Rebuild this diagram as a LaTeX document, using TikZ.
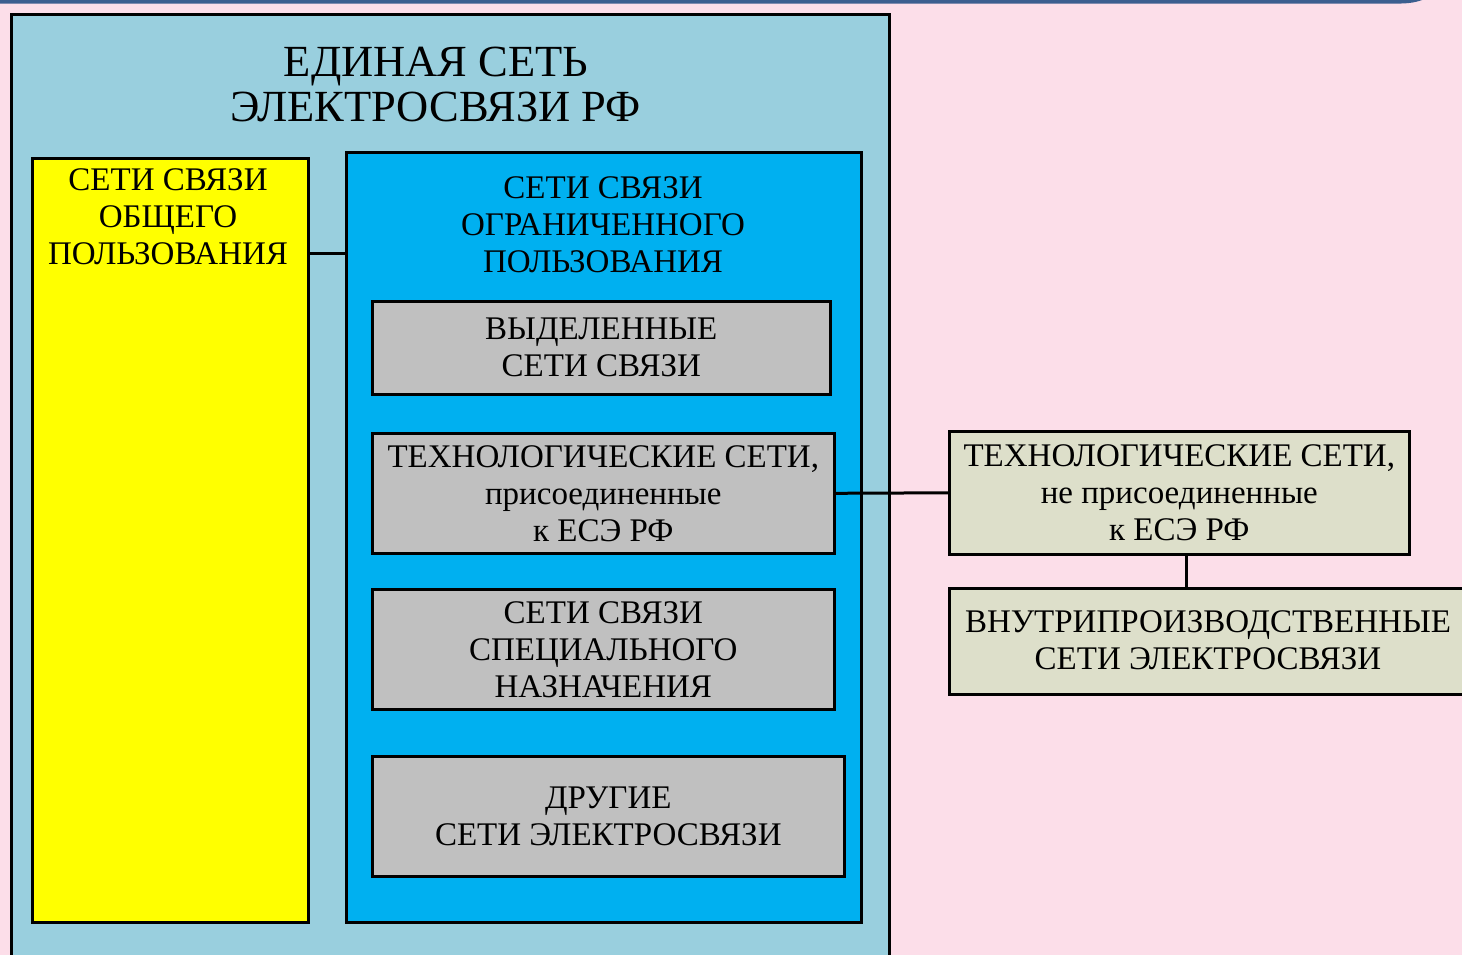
\documentclass[tikz,border=0pt]{standalone}
\usepackage{fontspec}
\setmainfont{Liberation Serif}
\begin{document}
\begin{tikzpicture}[x=1pt,y=-1pt,
  box/.style={draw=black,line width=2.6pt,inner sep=0pt,anchor=north west},
  lbl/.style={align=center,font=\fontsize{33}{37}\selectfont,inner sep=0pt},
  link/.style={line width=3pt}]
\definecolor{bgpink}{HTML}{FCDEE9}
\definecolor{topbar}{HTML}{3B5E8F}
\definecolor{sky}{HTML}{99CFDE}
\definecolor{deepsky}{HTML}{00B0F0}
\definecolor{graybox}{HTML}{C0C0C0}
\definecolor{sage}{HTML}{DDDFCA}
\definecolor{brightyellow}{HTML}{FFFF00}
% page and top strip
\fill[bgpink] (0,0) rectangle (1462,955);
\useasboundingbox (0,0) rectangle (1462,955);
\fill[topbar] (0,0) -- (1422,0) .. controls (1414,3) and (1406,3.6) .. (1395,3.6) -- (0,3.6) -- cycle;
% outer frame
\node[box,fill=sky,minimum width=878pt,minimum height=960pt] (esr) at (10,13) {};
\node[lbl,font=\fontsize{44.5}{45}\selectfont] (esrt) at (436,84) {ЕДИНАЯ СЕТЬ\\ЭЛЕКТРОСВЯЗИ РФ};
% public networks
\node[box,fill=brightyellow,minimum width=276pt,minimum height=764pt] (pub) at (31,157) {};
\node[lbl] (pubt) at (168,217) {СЕТИ СВЯЗИ\\ОБЩЕГО\\ПОЛЬЗОВАНИЯ};
% restricted networks
\node[box,fill=deepsky,minimum width=515pt,minimum height=770pt] (lim) at (345,151) {};
\node[lbl] (limt) at (603,225) {СЕТИ СВЯЗИ\\ОГРАНИЧЕННОГО\\ПОЛЬЗОВАНИЯ};
\node[box,fill=graybox,minimum width=458pt,minimum height=93pt] (ded) at (371,300) {};
\node[lbl] at (ded.center) {ВЫДЕЛЕННЫЕ\\СЕТИ СВЯЗИ};
\node[box,fill=graybox,minimum width=462pt,minimum height=120pt] (tech) at (371,432) {};
\node[lbl] at (tech.center) {ТЕХНОЛОГИЧЕСКИЕ СЕТИ,\\присоединенные\\к ЕСЭ РФ};
\node[box,fill=graybox,minimum width=462pt,minimum height=120pt] (spec) at (371,588) {};
\node[lbl] at (spec.center) {СЕТИ СВЯЗИ\\СПЕЦИАЛЬНОГО\\НАЗНАЧЕНИЯ};
\node[box,fill=graybox,minimum width=472pt,minimum height=120pt] (oth) at (371,755) {};
\node[lbl] at (oth.center) {ДРУГИЕ\\СЕТИ ЭЛЕКТРОСВЯЗИ};
% networks outside
\node[box,fill=sage,minimum width=460pt,minimum height=123pt] (techr) at (948,430) {};
\node[lbl] at (techr.center) {ТЕХНОЛОГИЧЕСКИЕ СЕТИ,\\не присоединенные\\к ЕСЭ РФ};
\node[box,fill=sage,minimum width=522pt,minimum height=106pt] (intr) at (948,587) {};
\node[lbl] at (1208,640) {ВНУТРИПРОИЗВОДСТВЕННЫЕ\\СЕТИ ЭЛЕКТРОСВЯЗИ};
% connectors
\coordinate (pubrow) at (0,253);
\draw[link] (pub.east |- pubrow) -- (lim.west |- pubrow);
\draw[link] (tech.east) -- (techr.west);
\draw[link] ([xshift=7pt]techr.south) -- ([xshift=7pt]techr.south |- intr.north);
\end{tikzpicture}
\end{document}
